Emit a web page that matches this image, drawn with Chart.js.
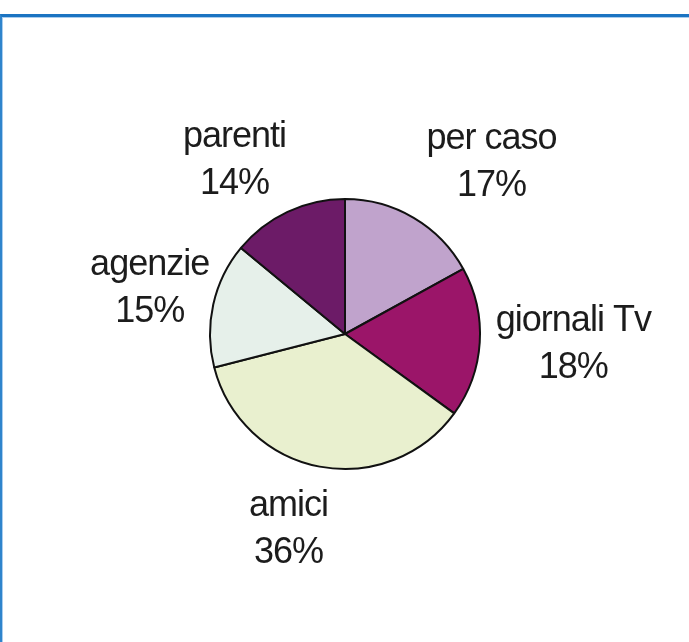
<!DOCTYPE html>
<html>
<head>
<meta charset="utf-8">
<script src="https://cdn.jsdelivr.net/npm/chart.js@4"></script>
<style>
  html, body { margin: 0; padding: 0; background: #fff; }
  #wrap { position: relative; width: 689px; height: 642px; overflow: hidden; }
  #frame { position: absolute; left: 0; top: 14px; right: -4px; bottom: -4px;
           border-top: 3px solid #1b74c2; border-left: 2px solid #2f84cc; box-shadow: inset 1px 1px 0 #a9cdee; }
  #box { position: absolute; left: 0; top: 0; width: 689px; height: 642px; }
</style>
</head>
<body>
<div id="wrap">
  <div id="frame"></div>
  <div id="box"><canvas id="pieChart"></canvas></div>
</div>
<script>
// ===== pie: come sono venuti a conoscenza =====

const labels = ['per caso', 'giornali Tv', 'amici', 'agenzie', 'parenti'];
const shares = [17, 18, 36, 15, 14];
const sliceColors = ['#c0a3cc', '#9b1569', '#e9f0cf', '#e6f0ea', '#6c1b67'];

// small per-label tweaks so labels sit like the Excel original
const labelNudge = [[31, -2], [2, -3], [-14, 0], [26, -3], [-14, 5]];

const outsideLabels = {
  id: 'outsideLabels',
  afterDraw(chart) {
    const ctx = chart.ctx;
    const meta = chart.getDatasetMeta(0);
    const total = shares.reduce((a, b) => a + b, 0);
    ctx.save();
    ctx.font = '36px "Liberation Sans", Arial, sans-serif';
    ctx.fillStyle = '#1c1c1c';
    ctx.textAlign = 'center';
    ctx.textBaseline = 'alphabetic';
    if ('letterSpacing' in ctx) ctx.letterSpacing = '-1px';
    meta.data.forEach((arc, i) => {
      const p = arc.getProps(['x', 'y', 'startAngle', 'endAngle', 'outerRadius'], true);
      const mid = (p.startAngle + p.endAngle) / 2;
      const cx = p.x + p.outerRadius * 1.68 * Math.cos(mid) + labelNudge[i][0];
      const cy = p.y + p.outerRadius * 1.47 * Math.sin(mid) + labelNudge[i][1];
      const pct = Math.round(shares[i] / total * 100) + '%';
      ctx.fillText(labels[i], cx, cy - 12.5);
      ctx.fillText(pct, cx, cy + 34.5);
    });
    ctx.restore();
  }
};

new Chart(document.getElementById('pieChart'), {
  type: 'pie',
  data: {
    labels,
    datasets: [{
      data: shares,
      backgroundColor: sliceColors,
      borderColor: '#111',
      borderWidth: 2,
      borderAlign: 'center'
    }]
  },
  options: {
    responsive: true,
    maintainAspectRatio: false,
    animation: false,
    layout: { padding: { left: 100, right: 99, top: 198, bottom: 172 } },
    plugins: { legend: { display: false }, tooltip: { enabled: false } }
  },
  plugins: [outsideLabels]
});
</script>
</body>
</html>
